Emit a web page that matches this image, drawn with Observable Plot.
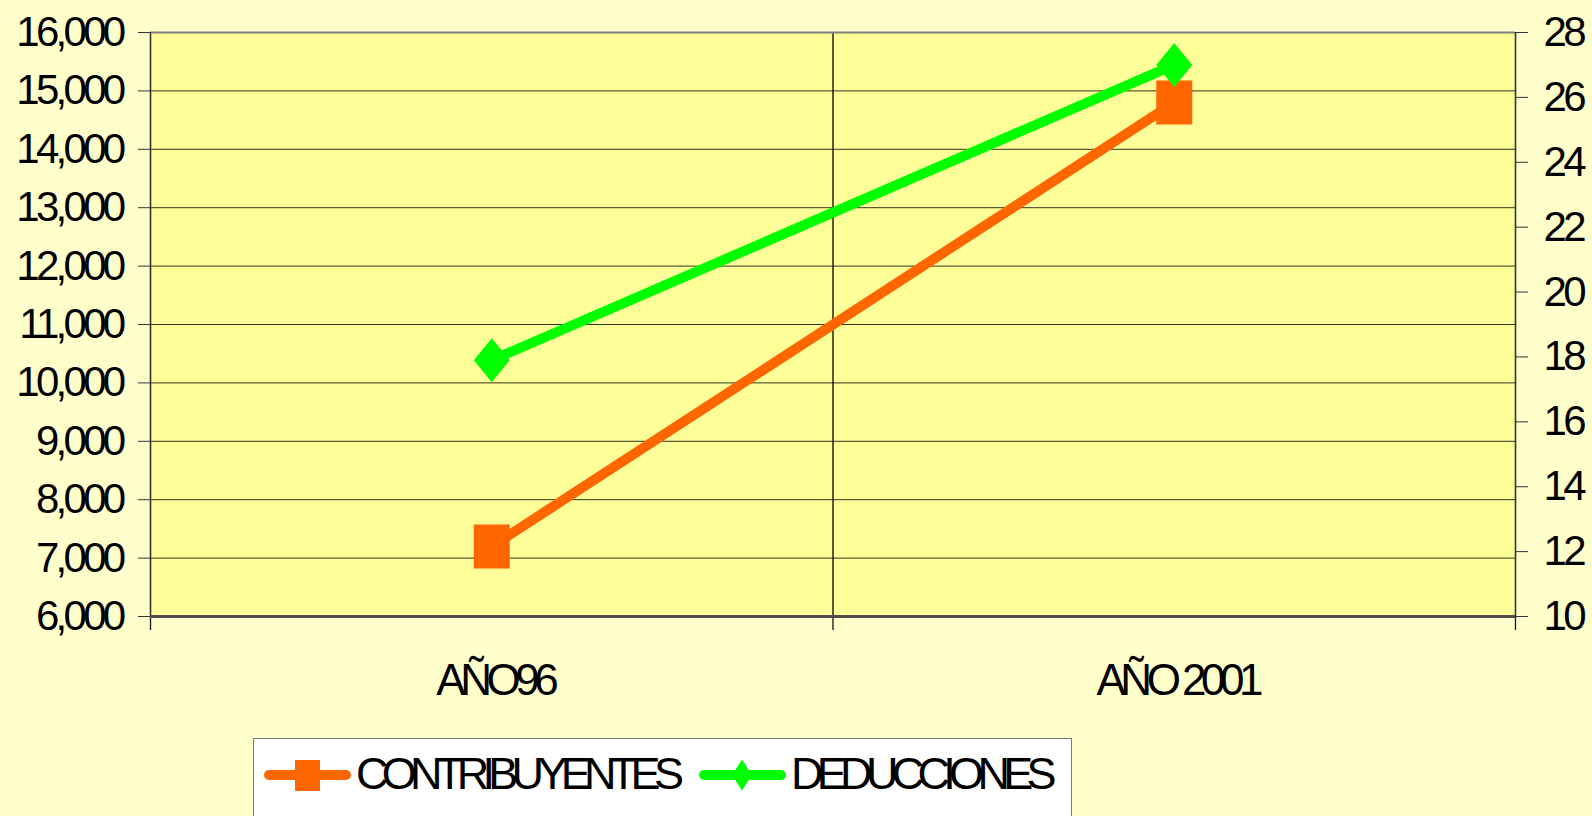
<!DOCTYPE html>
<html>
<head>
<meta charset="utf-8">
<script src="https://cdn.jsdelivr.net/npm/d3@7"></script>
<script src="https://cdn.jsdelivr.net/npm/@observablehq/plot@0.6"></script>
<style>
  html, body { margin: 0; padding: 0; background: #FFFFCC; overflow: hidden; width: 1592px; height: 816px; }
  #chart { position: absolute; left: 0; top: 0; }
  #legend { position: absolute; left: 253px; top: 738px; width: 819px; height: 100px; background: #FFFFFF; border: 1px solid #7a7a7a; box-sizing: border-box; }
  g[aria-label="y-axis tick label"] text { letter-spacing: -3.7px; }
  g[aria-label="x-axis tick label"] text { letter-spacing: -5.5px; }
  #legend text { letter-spacing: -6.7px; }
</style>
</head>
<body>
<div id="chart"></div>
<div id="legend"></div>
<script>
// ---- data ----
const categories = ["AÑO96", "AÑO 2001"];
const contribuyentes = [7200, 14800];   // left axis
const deducciones = [17.9, 27.0];       // right axis
const leftTicks = [6000, 7000, 8000, 9000, 10000, 11000, 12000, 13000, 14000, 15000, 16000];
const rightTicks = [10, 12, 14, 16, 18, 20, 22, 24, 26, 28];
const seriesNames = ["CONTRIBUYENTES", "DEDUCCIONES"];

// ---- scales mapping (right axis onto left domain) ----
const L0 = 6000, L1 = 16000, R0 = 10, R1 = 28;
const toLeft = v => L0 + (v - R0) * (L1 - L0) / (R1 - R0);
const fromLeft = v => R0 + (v - L0) * (R1 - R0) / (L1 - L0);

const rows = categories.map((c, i) => ({
  cat: c, pos: i + 0.5, contrib: contribuyentes[i], deduc: toLeft(deducciones[i])
}));
const bounds = d3.range(categories.length + 1);

// custom symbols (rectangle / diamond taller than wide)
const tallRect = {
  draw(ctx, size) {
    const r = Math.sqrt(size / Math.PI), h = r * 22 / 18;
    ctx.moveTo(-r, -h); ctx.lineTo(r, -h); ctx.lineTo(r, h); ctx.lineTo(-r, h); ctx.closePath();
  }
};
const tallDiamond = {
  draw(ctx, size) {
    const r = Math.sqrt(size / Math.PI), h = r * 22 / 18;
    ctx.moveTo(0, -h); ctx.lineTo(r, 0); ctx.lineTo(0, h); ctx.lineTo(-r, 0); ctx.closePath();
  }
};

const FONT = "Arial, 'Liberation Sans', sans-serif";

const chart = Plot.plot({
  width: 1592,
  height: 716,
  marginLeft: 150,
  marginRight: 77,
  marginTop: 32,
  marginBottom: 100,
  style: { background: "transparent", fontFamily: FONT, color: "#000" },
  x: { type: "linear", domain: [0, categories.length], axis: null, label: null },
  y: { domain: [L0, L1], axis: null, label: null },
  marks: [
    Plot.frame({ fill: "#FFFF99", stroke: null }),
    Plot.gridY(leftTicks.slice(1, -1), { stroke: "#000", strokeOpacity: 0.8, strokeWidth: 1 }),
    Plot.gridX(bounds.slice(1, -1), { stroke: "#000", strokeOpacity: 1, strokeWidth: 1.3 }),
    Plot.ruleY([L1], { stroke: "#808080", strokeWidth: 2 }),
    Plot.ruleX([0, categories.length], { stroke: "#333", strokeWidth: 1.6 }),
    // bottom ticks at category boundaries
    Plot.axisX({ ticks: bounds, tickSize: 14, tickFormat: () => "", label: null, stroke: "#111", strokeWidth: 1.3 }),
    Plot.ruleY([L0], { stroke: "#4d4d4d", strokeWidth: 3 }),
    // category labels
    Plot.axisX({ ticks: rows.map(d => d.pos), tickSize: 0, tickPadding: 47, fontSize: 44, dx: 3, label: null,
      tickFormat: v => categories[Math.floor(v)] }),
    // left axis
    Plot.axisY({ anchor: "left", ticks: leftTicks, tickSize: 12, tickPadding: 16, fontSize: 42, label: null,
      stroke: "#333", tickFormat: d3.format(",") }),
    // right axis
    Plot.axisY({ anchor: "right", ticks: rightTicks.map(toLeft), tickSize: 12, tickPadding: 16, fontSize: 42, label: null,
      stroke: "#333", tickFormat: v => String(Math.round(fromLeft(v))) }),
    // CONTRIBUYENTES
    Plot.line(rows, { x: "pos", y: "contrib", stroke: "#FF6600", strokeWidth: 10 }),
    Plot.dot(rows, { x: "pos", y: "contrib", r: 18, symbol: tallRect, fill: "#FF6600", stroke: null }),
    // DEDUCCIONES
    Plot.line(rows, { x: "pos", y: "deduc", stroke: "#00FF00", strokeWidth: 10 }),
    Plot.dot(rows, { x: "pos", y: "deduc", r: 18, symbol: tallDiamond, fill: "#00FF00", stroke: null })
  ]
});
document.getElementById("chart").append(chart);

// ---- legend ----
const lg = d3.select("#legend").append("svg")
  .attr("width", 817).attr("height", 98)
  .style("font-family", FONT);
// item 1
lg.append("line").attr("x1", 15).attr("x2", 92).attr("y1", 36).attr("y2", 36)
  .attr("stroke", "#FF6600").attr("stroke-width", 10).attr("stroke-linecap", "round");
lg.append("rect").attr("x", 41).attr("y", 21).attr("width", 25).attr("height", 31).attr("fill", "#FF6600");
lg.append("text").attr("x", 102).attr("y", 50).attr("font-size", 45).attr("fill", "#000").text(seriesNames[0]);
// item 2
lg.append("line").attr("x1", 450).attr("x2", 527).attr("y1", 36).attr("y2", 36)
  .attr("stroke", "#00FF00").attr("stroke-width", 10).attr("stroke-linecap", "round");
lg.append("path").attr("d", "M488,20.5 L498,36 L488,51.5 L478,36 Z").attr("fill", "#00FF00");
lg.append("text").attr("x", 537).attr("y", 50).attr("font-size", 45).attr("fill", "#000").text(seriesNames[1]);
</script>
</body>
</html>
